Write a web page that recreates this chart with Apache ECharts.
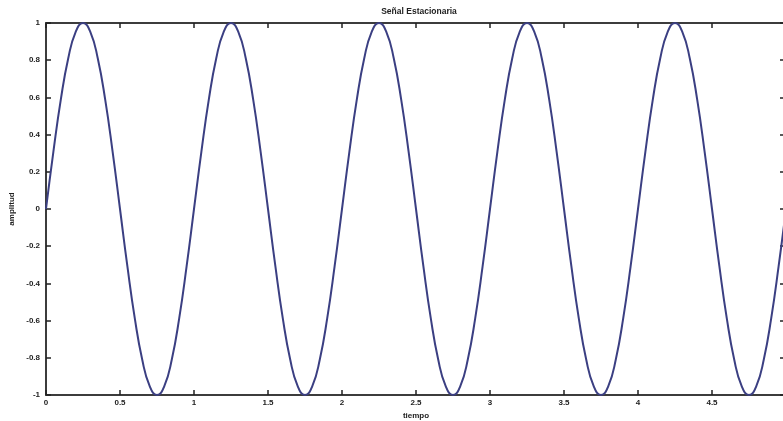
<!DOCTYPE html>
<html>
<head>
<meta charset="utf-8">
<script src="https://cdn.jsdelivr.net/npm/echarts@6/dist/echarts.min.js"></script>
<style>
  html, body { margin: 0; padding: 0; background: #ffffff; }
  #chart { width: 783px; height: 421px; }
</style>
</head>
<body>
<div id="chart"></div>
<script>
// Señal estacionaria: amplitude sampled every 0.05 s
const tiempo = [
  0.00, 0.05, 0.10, 0.15, 0.20, 0.25, 0.30, 0.35, 0.40, 0.45,
  0.50, 0.55, 0.60, 0.65, 0.70, 0.75, 0.80, 0.85, 0.90, 0.95,
  1.00, 1.05, 1.10, 1.15, 1.20, 1.25, 1.30, 1.35, 1.40, 1.45,
  1.50, 1.55, 1.60, 1.65, 1.70, 1.75, 1.80, 1.85, 1.90, 1.95,
  2.00, 2.05, 2.10, 2.15, 2.20, 2.25, 2.30, 2.35, 2.40, 2.45,
  2.50, 2.55, 2.60, 2.65, 2.70, 2.75, 2.80, 2.85, 2.90, 2.95,
  3.00, 3.05, 3.10, 3.15, 3.20, 3.25, 3.30, 3.35, 3.40, 3.45,
  3.50, 3.55, 3.60, 3.65, 3.70, 3.75, 3.80, 3.85, 3.90, 3.95,
  4.00, 4.05, 4.10, 4.15, 4.20, 4.25, 4.30, 4.35, 4.40, 4.45,
  4.50, 4.55, 4.60, 4.65, 4.70, 4.75, 4.80, 4.85, 4.90, 4.95,
  5.00
];
const amplitud = [
  0, 0.309, 0.588, 0.809, 0.951, 1, 0.951, 0.809, 0.588, 0.309,
  0, -0.309, -0.588, -0.809, -0.951, -1, -0.951, -0.809, -0.588, -0.309,
  0, 0.309, 0.588, 0.809, 0.951, 1, 0.951, 0.809, 0.588, 0.309,
  0, -0.309, -0.588, -0.809, -0.951, -1, -0.951, -0.809, -0.588, -0.309,
  0, 0.309, 0.588, 0.809, 0.951, 1, 0.951, 0.809, 0.588, 0.309,
  0, -0.309, -0.588, -0.809, -0.951, -1, -0.951, -0.809, -0.588, -0.309,
  0, 0.309, 0.588, 0.809, 0.951, 1, 0.951, 0.809, 0.588, 0.309,
  0, -0.309, -0.588, -0.809, -0.951, -1, -0.951, -0.809, -0.588, -0.309,
  0, 0.309, 0.588, 0.809, 0.951, 1, 0.951, 0.809, 0.588, 0.309,
  0, -0.309, -0.588, -0.809, -0.951, -1, -0.951, -0.809, -0.588, -0.309,
  0
];
const xTicks = { min: 0, max: 5, interval: 0.5 };
const yTicks = { min: -1, max: 1, interval: 0.2 };

const chart = echarts.init(document.getElementById('chart'));
const font = 'Liberation Sans, Arial, sans-serif';
const axisLineStyle = { color: '#3c3c3c', width: 2 };
const tickStyle = { color: '#222', width: 1.5 };

const fmtY = v => {
  const r = Math.round(v * 10) / 10;
  return r === 0 ? '0' : String(r);
};
const fmtX = v => {
  const r = Math.round(v * 10) / 10;
  return r === 5 ? '' : String(r);
};

chart.setOption({
  animation: false,
  backgroundColor: '#ffffff',
  title: {
    text: 'Señal Estacionaria',
    left: 414, top: 2, textAlign: 'center',
    textStyle: { fontFamily: font, fontSize: 8.5, fontWeight: 'bold', color: '#222' }
  },
  grid: { left: 46, right: -3, top: 23, bottom: 26, outerBoundsMode: 'none', containLabel: false },
  xAxis: [
    {
      type: 'value', position: 'bottom',
      min: xTicks.min, max: xTicks.max, interval: xTicks.interval,
      name: 'tiempo', nameLocation: 'middle', nameGap: 17,
      nameTextStyle: { fontFamily: font, fontSize: 8, fontWeight: 'bold', color: '#222' },
      axisLine: { show: true, onZero: false, lineStyle: axisLineStyle },
      axisTick: { show: true, inside: true, length: 5, lineStyle: tickStyle },
      axisLabel: { formatter: fmtX, fontFamily: font, fontSize: 8, fontWeight: 'bold', color: '#222', margin: 4 },
      splitLine: { show: false }
    },
    {
      type: 'value', position: 'top',
      min: xTicks.min, max: xTicks.max, interval: xTicks.interval,
      axisLine: { show: true, onZero: false, lineStyle: axisLineStyle },
      axisTick: { show: true, inside: true, length: 5, lineStyle: tickStyle },
      axisLabel: { show: false },
      splitLine: { show: false }
    }
  ],
  yAxis: [
    {
      type: 'value', position: 'left',
      min: yTicks.min, max: yTicks.max, interval: yTicks.interval,
      name: 'amplitud', nameLocation: 'middle', nameGap: 29,
      nameTextStyle: { fontFamily: font, fontSize: 8, fontWeight: 'bold', color: '#222' },
      axisLine: { show: true, onZero: false, lineStyle: axisLineStyle },
      axisTick: { show: true, inside: true, length: 5, lineStyle: tickStyle },
      axisLabel: { formatter: fmtY, fontFamily: font, fontSize: 8, fontWeight: 'bold', color: '#222', margin: 6 },
      splitLine: { show: false }
    },
    {
      type: 'value', position: 'right',
      min: yTicks.min, max: yTicks.max, interval: yTicks.interval,
      axisLine: { show: true, onZero: false, lineStyle: axisLineStyle },
      axisTick: { show: true, inside: true, length: 6, lineStyle: tickStyle },
      axisLabel: { show: false },
      splitLine: { show: false }
    }
  ],
  series: [{
    type: 'line',
    xAxisIndex: 0, yAxisIndex: 0,
    data: tiempo.map((t, i) => [t, amplitud[i]]),
    smooth: 0.5,
    showSymbol: false,
    lineStyle: { color: '#3b3f82', width: 2 },
    clip: true
  }]
});
</script>
</body>
</html>
